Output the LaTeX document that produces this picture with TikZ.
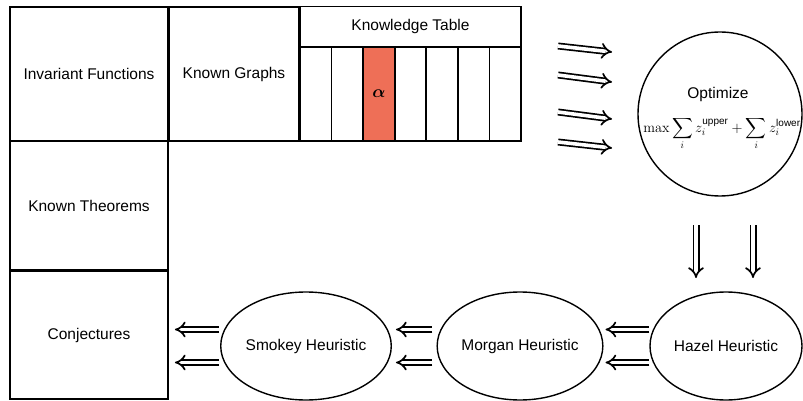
\documentclass[tikz,border=0pt]{standalone}
\usepackage{amsmath}
\usepackage{fontspec}
\newfontfamily\helv{Liberation Sans}
\usetikzlibrary{arrows.meta,shapes.geometric}
\definecolor{salmon}{RGB}{238,111,87}
\newcommand{\lbl}{\helv\fontsize{15.5}{18}\selectfont}
\tikzset{
  box/.style={draw, line width=1.8pt, rectangle, inner sep=0pt, font=\lbl},
  colbox/.style={draw, line width=1.8pt, rectangle, minimum width=31.57pt, minimum height=94pt, inner sep=0pt},
  oval/.style={draw, ellipse, line width=1.4pt, minimum width=152pt, minimum height=108pt, inner sep=0pt, font=\lbl},
  darrow/.style={double, double distance=3.6pt, line width=1.7pt, -{Implies[scale=1.4]}},
}
\begin{document}
\begin{tikzpicture}[x=1pt,y=-1pt]
\useasboundingbox (0,0) rectangle (803,401);
% left boxes
\node[box, minimum width=158pt, minimum height=134pt] (inv) at (89,74) {Invariant Functions};
\node[box, minimum width=130pt, minimum height=134pt] (graphs) at (234,74) {Known Graphs};
\node[box, minimum width=158pt, minimum height=129pt] (thm) at (89,205.5) {Known Theorems};
\node[box, minimum width=158pt, minimum height=128pt] (conj) at (89,335) {Conjectures};
% knowledge table
\node[box, minimum width=221pt, minimum height=40pt] (table) at (410.5,26.5) {Knowledge Table};
\foreach \i in {0,1,3,4,5,6}{
  \node[colbox] (c\i) at ({300+31.57*\i+15.79},94) {};
}
\node[colbox, fill=salmon, font=\fontsize{17}{20}\selectfont] (c2) at ({300+31.57*2+15.79},94) {$\boldsymbol{\alpha}$};
% optimize circle
\node[draw, circle, line width=1.4pt, minimum size=164pt, inner sep=0pt] (opt) at (720,114) {};
\node[font=\lbl] (optlbl) at (718,94) {Optimize};
\node[anchor=base, inner sep=0pt, font=\fontsize{14.4}{17}\selectfont] (optf) at (722,132)
  {$\displaystyle \max \sum_i z_i^{\text{\helv upper}} + \sum_i z_i^{\text{\helv lower}}$};
% heuristics
\node[oval] (hazel) at (726,346) {Hazel Heuristic};
\node[oval, minimum width=150pt] (morgan) at (520,346) {Morgan Heuristic};
\node[oval, minimum width=154pt] (smokey) at (306,346) {Smokey Heuristic};
% free arrow coordinates
\coordinate (r1s) at (558,46); \coordinate (r1e) at (612,52);
\coordinate (r2s) at (558,75); \coordinate (r2e) at (612,82);
\coordinate (r3s) at (558,112); \coordinate (r3e) at (612,119);
\coordinate (r4s) at (558,142); \coordinate (r4e) at (612,148);
\coordinate (d1s) at (696,225); \coordinate (d1e) at (696,278);
\coordinate (d2s) at (753,225); \coordinate (d2e) at (753,278);
\foreach \k in {1,2,3,4}{ \draw[darrow] (r\k s) -- (r\k e); }
\draw[darrow] (d1s) -- (d1e);
\draw[darrow] (d2s) -- (d2e);
% left arrows
\foreach \s in {16.5,-16.5}{
  \draw[darrow, shorten >=2pt] ([yshift=\s pt]hazel.west) -- ([yshift=\s pt]morgan.east);
  \draw[darrow, shorten <=4pt, shorten >=4pt] ([yshift=\s pt]morgan.west) -- ([yshift=\s pt]smokey.east);
  \draw[darrow, shorten <=1pt, shorten >=6pt] ([yshift=\s pt]smokey.west) -- ([yshift=\s pt]smokey.west -| conj.east);
}
\end{tikzpicture}
\end{document}
